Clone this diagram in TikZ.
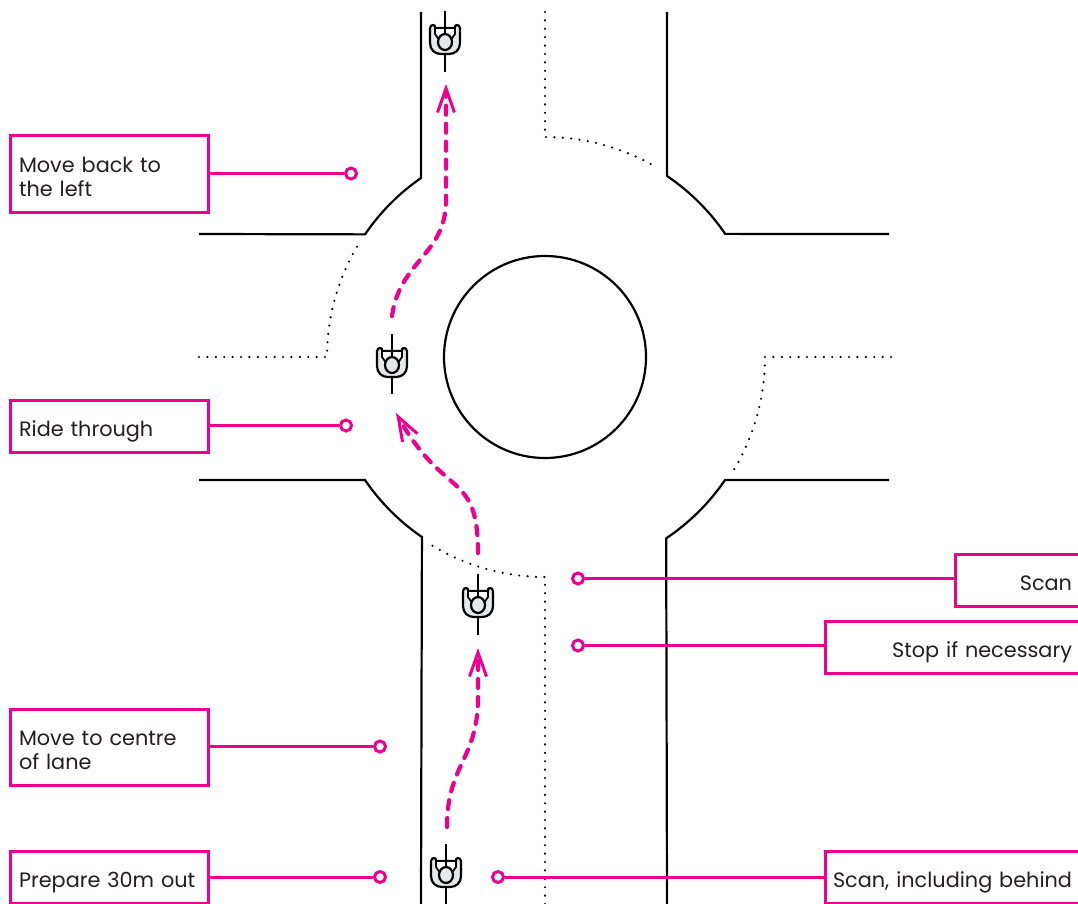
\documentclass[tikz,border=0pt]{standalone}
\usepackage{fontspec}
\setmainfont{Poppins}
\usetikzlibrary{arrows.meta}
\definecolor{pk}{HTML}{EC008C}
\definecolor{ink}{HTML}{231F20}
\definecolor{seat}{HTML}{E6E7E8}
\tikzset{
 road/.style={draw=black,line width=2.2pt},
 dots/.style={draw=black,line width=2.4pt,line cap=round,dash pattern=on 0pt off 8.4pt},
 route/.style={draw=pk,line width=4.2pt,line cap=round,dash pattern=on 9pt off 9pt,-{Straight Barb[length=24pt,width=17pt,line width=3pt,line cap=butt]}},
 labelbox/.style={draw=pk,line width=3pt,fill=white,inner sep=0pt,outer sep=0pt,text=ink,font=\fontsize{20.8}{24.6}\selectfont,align=left,anchor=north west,execute at begin node={\rule{0pt}{26pt}},execute at end node={\rule[-5pt]{0pt}{5pt}}},
 lead/.style={draw=pk,line width=3pt},
 pin/.style={circle,draw=pk,line width=3pt,fill=white,inner sep=0pt,minimum size=11pt},
}
\newcommand{\rider}[3]{%
 \begin{scope}[shift={(#1,#2)}]
 \path[fill=seat,draw=black,line width=2.2pt,line join=round] (-15,-13) .. controls (-15,-15) and (-13,-16) .. (-12,-16) .. controls (-10,-16) and (-10,-15) .. (-10,-13) -- (10,-13) .. controls (10,-15) and (10,-16) .. (12,-16) .. controls (13,-16) and (15,-15) .. (15,-13) -- (15,2) .. controls (15,9) and (10,13) .. (4,13) -- (-4,13) .. controls (-10,13) and (-15,9) .. (-15,2) -- cycle;
 \path[fill=white,draw=black,line width=1.8pt,line join=round] (-10,-13) -- (10,-13) -- (10,-7) -- (5,0) -- (-5,0) -- (-10,-7) -- cycle;
 \path[fill=seat,draw=black,line width=2.2pt] (0,1) ellipse (7 and 8);
 \draw[black,line width=2.2pt] (0,-30) -- (0,-7);
 \draw[black,line width=2.2pt] (0,14) -- (0,#3);
 \end{scope}}
\begin{document}
\begin{tikzpicture}[x=1pt,y=1pt,yscale=-1]
\useasboundingbox (0,0) rectangle (1078,904);
\clip (0,0) rectangle (1078,904);
% central island
\draw[road] (545,357) circle (101);
% kerbs
\draw[road] (421,12) -- (421,178) arc[start angle=235.3,end angle=214.3,radius=218] -- (199,234);
\draw[road] (667,12) -- (667,176) arc[start angle=304,end angle=325.7,radius=218] -- (889,234);
\draw[road] (199,480) -- (365,480) arc[start angle=145.7,end angle=124.4,radius=218] -- (421,904);
\draw[road] (889,480) -- (725,480) arc[start angle=34.3,end angle=56.2,radius=218] -- (667,904);
% give-way and centre lines
\draw[dots] (545,12) -- (545,137) arc[start angle=270,end angle=300.2,radius=220];
\draw[dots] (199,357) -- (327,357) arc[start angle=180,end angle=212.3,radius=218];
\draw[dots] (891,357) -- (765,357) arc[start angle=0,end angle=32.5,radius=220];
\draw[dots] (545,904) -- (545,577) arc[start angle=90,end angle=121.6,radius=218];
% routes
\draw[route] (447,827) .. controls (447,765) and (477,760) .. (478,700) -- (478,648);
\draw[route] (478,553) .. controls (478,470) and (445,500) .. (396,413);
\draw[route] (392,316) .. controls (400,260) and (446,255) .. (446,200) -- (446,84);
% riders
\rider{445}{41}{31}
\rider{392}{364}{30}
\rider{478}{604}{31}
\rider{446}{874}{32}
% labels
\node[labelbox,minimum width=198pt,minimum height=76pt,text width=198pt] (back) at (10,136) {\hspace*{9pt}Move back to\\\hspace*{9pt}the left};
\node[labelbox,minimum width=198pt,minimum height=52pt,text width=198pt] (through) at (10,400) {\hspace*{9pt}Ride through};
\node[labelbox,minimum width=198pt,minimum height=76pt,text width=198pt] (centre) at (10,709) {\hspace*{9pt}Move to centre\\\hspace*{9pt}of lane};
\node[labelbox,minimum width=198pt,minimum height=52pt,text width=198pt] (prepare) at (10,851) {\hspace*{9pt}Prepare 30m out};
\node[labelbox,minimum width=140pt,minimum height=52pt,text width=140pt] (scan) at (955,554) {\hfill Scan\kern23pt};
\node[labelbox,minimum width=270pt,minimum height=52pt,text width=270pt] (stop) at (825,621) {\hfill Stop if necessary\kern23pt};
\node[labelbox,minimum width=270pt,minimum height=52pt,text width=270pt] (behind) at (825,851) {\hfill Scan, including behind\kern23pt};
% pins
\node[pin] (p1) at (351,173.5) {};
\node[pin] (p2) at (346,425.5) {};
\node[pin] (p3) at (380,746.5) {};
\node[pin] (p4) at (380,877) {};
\node[pin] (p5) at (578,578.5) {};
\node[pin] (p6) at (578,645.5) {};
\node[pin] (p7) at (498,877) {};
\draw[lead] (back.east |- p1) -- (p1);
\draw[lead] (through.east |- p2) -- (p2);
\draw[lead] (centre.east |- p3) -- (p3);
\draw[lead] (prepare.east |- p4) -- (p4);
\draw[lead] (scan.west |- p5) -- (p5);
\draw[lead] (stop.west |- p6) -- (p6);
\draw[lead] (behind.west |- p7) -- (p7);
\end{tikzpicture}
\end{document}
